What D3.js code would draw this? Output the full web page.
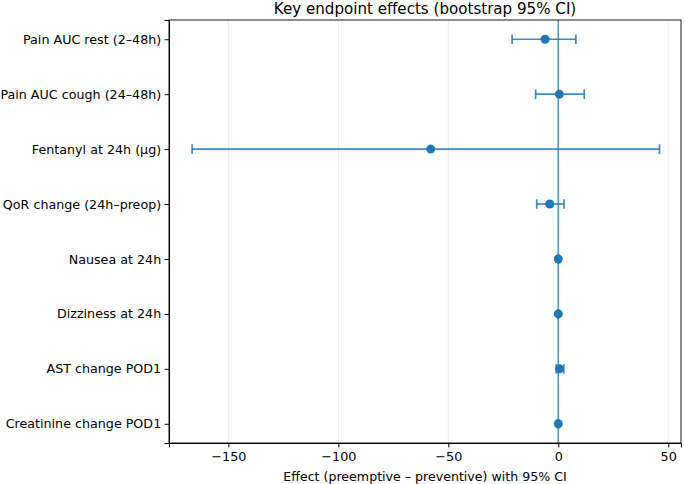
<!DOCTYPE html>
<html lang="en">
<head>
<meta charset="UTF-8">
<title>Key endpoint effects</title>
<script src="https://d3js.org/d3.v7.min.js"></script>
<style>
  body { margin: 0; background: #fff; }
  svg { font-family: "DejaVu Sans", sans-serif; }
  .grid line { stroke: #e5e5e5; stroke-width: 0.8; }
  .axis path, .axis line { stroke: #000; }
  .axis text { fill: #000; }
</style>
</head>
<body>
<svg width="685" height="484"></svg>
<script>
// endpoints, top to bottom
var endpoints = ["Pain AUC rest (2\u201348h)", "Pain AUC cough (24\u201348h)", "Fentanyl at 24h (\u00b5g)",
  "QoR change (24h\u2013preop)", "Nausea at 24h", "Dizziness at 24h", "AST change POD1", "Creatinine change POD1"];
var effect = [-6.0, 0.5, -58.0, -3.9, 0.0, 0.0, 0.6, 0.0];
var ciLow  = [-21.0, -10.3, -166.5, -9.8, -0.1, -0.1, -0.9, -0.05];
var ciHigh = [8.0, 11.8, 46.0, 2.6, 0.1, 0.1, 2.5, 0.05];
var xTicks = [-150, -100, -50, 0, 50];

var rows = endpoints.map(function(d, i) {
  return {name: d, est: effect[i], lo: ciLow[i], hi: ciHigh[i], idx: i};
});

var mL = 169, mR = 681, mT = 20, mB = 443;
var x = d3.scaleLinear().domain([-177, 55.8]).range([mL, mR]);
var y = d3.scaleLinear().domain([-0.35, 7.35]).range([mT, mB]);

var svg = d3.select("svg");
var blue = "#1f77b4";

// grid
svg.append("g").attr("class", "grid")
  .selectAll("line").data(xTicks).enter().append("line")
  .attr("x1", function(d) { return x(d); }).attr("x2", function(d) { return x(d); })
  .attr("y1", mT).attr("y2", mB);

// zero line
svg.append("line")
  .attr("x1", x(0)).attr("x2", x(0)).attr("y1", mT).attr("y2", mB)
  .attr("stroke", blue).attr("stroke-opacity", 0.75).attr("stroke-width", 1.6);

// error bars
var eb = svg.append("g").selectAll("g").data(rows).enter().append("g")
  .attr("stroke", blue).attr("stroke-opacity", 0.85).attr("stroke-width", 1.7);
eb.append("line")
  .attr("x1", function(d) { return x(d.lo); }).attr("x2", function(d) { return x(d.hi); })
  .attr("y1", function(d) { return y(d.idx); }).attr("y2", function(d) { return y(d.idx); });
eb.append("line")
  .attr("x1", function(d) { return x(d.lo); }).attr("x2", function(d) { return x(d.lo); })
  .attr("y1", function(d) { return y(d.idx) - 4.8; }).attr("y2", function(d) { return y(d.idx) + 4.8; });
eb.append("line")
  .attr("x1", function(d) { return x(d.hi); }).attr("x2", function(d) { return x(d.hi); })
  .attr("y1", function(d) { return y(d.idx) - 4.8; }).attr("y2", function(d) { return y(d.idx) + 4.8; });

// points
svg.append("g").selectAll("circle").data(rows).enter().append("circle")
  .attr("cx", function(d) { return x(d.est); })
  .attr("cy", function(d) { return y(d.idx); })
  .attr("r", 4.5).attr("fill", blue);

// axes
svg.append("g").attr("class", "axis")
  .attr("transform", "translate(0," + mB + ")")
  .call(d3.axisBottom(x).tickValues(xTicks).tickSizeOuter(0).tickSize(4.4).tickPadding(4.2)
    .tickFormat(function(d) { return d < 0 ? "\u2212" + Math.abs(d) : d; }))
  .attr("font-family", "DejaVu Sans").attr("font-size", 12.8);
svg.append("g").attr("class", "axis")
  .attr("transform", "translate(" + mL + ",0)")
  .call(d3.axisLeft(y).tickValues(d3.range(endpoints.length)).tickSizeOuter(0).tickSize(4.4).tickPadding(3.4)
    .tickFormat(function(d) { return endpoints[d]; }))
  .attr("font-family", "DejaVu Sans").attr("font-size", 12.7);

// frame
svg.append("rect").attr("x", mL).attr("y", mT)
  .attr("width", mR - mL).attr("height", mB - mT)
  .attr("fill", "none").attr("stroke", "#000").attr("stroke-width", 0.9);

// title and label
svg.append("text").attr("x", (mL + mR) / 2).attr("y", 14)
  .attr("text-anchor", "middle").attr("font-size", "15.1px").text("Key endpoint effects (bootstrap 95% CI)");
svg.append("text").attr("x", (mL + mR) / 2).attr("y", 481)
  .attr("text-anchor", "middle").attr("font-size", "12.6px").text("Effect (preemptive \u2013 preventive) with 95% CI");
</script>
</body>
</html>
